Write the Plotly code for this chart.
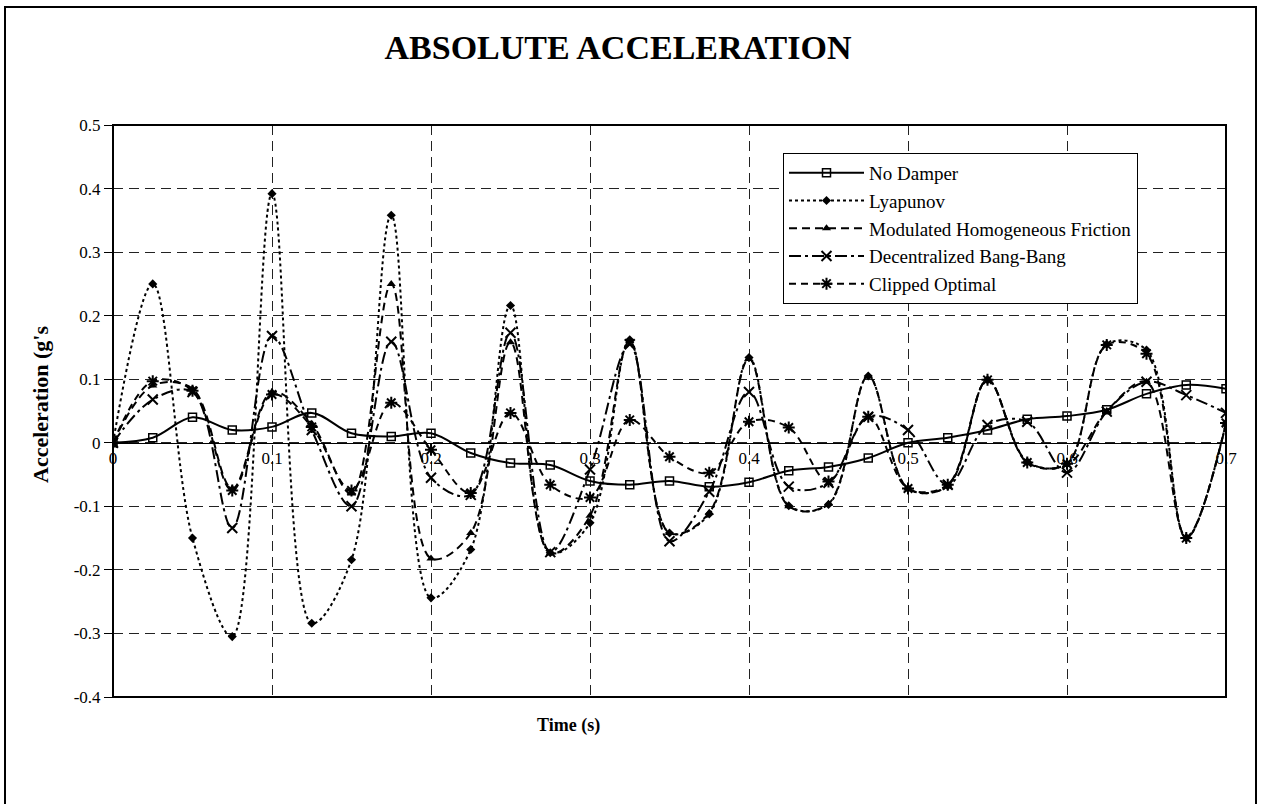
import plotly.graph_objects as go

# ---- data ----
time_s = [0.0, 0.025, 0.05, 0.075, 0.1, 0.125, 0.15, 0.175, 0.2, 0.225,
          0.25, 0.275, 0.3, 0.325, 0.35, 0.375, 0.4, 0.425, 0.45, 0.475,
          0.5, 0.525, 0.55, 0.575, 0.6, 0.625, 0.65, 0.675, 0.7]

no_damper = [0.0, 0.008, 0.04, 0.02, 0.025, 0.047, 0.015, 0.01, 0.015, -0.016,
             -0.032, -0.035, -0.06, -0.066, -0.06, -0.069, -0.062, -0.044, -0.038, -0.024,
             0.0, 0.008, 0.02, 0.037, 0.042, 0.052, 0.077, 0.091, 0.085]

lyapunov = [0.0, 0.25, -0.15, -0.305, 0.392, -0.284, -0.184, 0.358, -0.244, -0.168,
            0.216, -0.173, -0.126, 0.162, -0.142, -0.112, 0.134, -0.099, -0.097, 0.105,
            -0.072, -0.068, 0.099, -0.03, -0.033, 0.155, 0.146, -0.15, 0.031]

mod_homog_friction = [0.0, 0.09, 0.085, -0.072, 0.08, 0.03, -0.08, 0.25, -0.182, -0.142,
                      0.158, -0.174, -0.115, 0.16, -0.142, -0.11, 0.132, -0.1, -0.096, 0.105,
                      -0.072, -0.068, 0.099, -0.03, -0.035, 0.05, 0.096, -0.148, 0.03]

decentral_bang_bang = [0.0, 0.068, 0.08, -0.134, 0.168, 0.02, -0.1, 0.159, -0.055, -0.082,
                       0.173, -0.172, -0.042, 0.155, -0.155, -0.077, 0.08, -0.069, -0.063, 0.041,
                       0.02, -0.066, 0.028, 0.033, -0.047, 0.049, 0.096, 0.075, 0.047]

clipped_optimal = [0.0, 0.097, 0.082, -0.075, 0.076, 0.025, -0.075, 0.063, -0.011, -0.079,
                   0.047, -0.066, -0.086, 0.036, -0.022, -0.047, 0.033, 0.024, -0.061, 0.041,
                   -0.072, -0.066, 0.099, -0.031, -0.033, 0.154, 0.14, -0.15, 0.031]

x_tick_vals = [0, 0.1, 0.2, 0.3, 0.4, 0.5, 0.6, 0.7]
x_tick_text = ["0", "0.1", "0.2", "0.3", "0.4", "0.5", "0.6", "0.7"]
y_tick_vals = [0.5, 0.4, 0.3, 0.2, 0.1, 0, -0.1, -0.2, -0.3, -0.4]
y_tick_text = ["0.5", "0.4", "0.3", "0.2", "0.1", "0", "-0.1", "-0.2", "-0.3", "-0.4"]

FONT = "Times New Roman, Liberation Serif, serif"

fig = go.Figure()

fig.add_trace(go.Scatter(
    x=time_s, y=no_damper, name="No Damper", mode="lines+markers",
    line=dict(color="black", width=2, shape="spline", smoothing=1.0),
    marker=dict(symbol="square-open", size=8, color="black", line=dict(width=1.5, color="black"))))

fig.add_trace(go.Scatter(
    x=time_s, y=lyapunov, name="Lyapunov", mode="lines+markers",
    line=dict(color="black", width=2, dash="dot", shape="spline", smoothing=1.0),
    marker=dict(symbol="diamond", size=7, color="black")))

fig.add_trace(go.Scatter(
    x=time_s, y=mod_homog_friction, name="Modulated Homogeneous Friction", mode="lines+markers",
    line=dict(color="black", width=2, dash="8px,5px", shape="spline", smoothing=1.0),
    marker=dict(symbol="triangle-up", size=8, color="black")))

fig.add_trace(go.Scatter(
    x=time_s, y=decentral_bang_bang, name="Decentralized Bang-Bang", mode="lines+markers",
    line=dict(color="black", width=2, dash="12px,4px,3px,4px", shape="spline", smoothing=1.0),
    marker=dict(symbol="x-thin-open", size=10, color="black", line=dict(width=2, color="black"))))

fig.add_trace(go.Scatter(
    x=time_s, y=clipped_optimal, name="Clipped Optimal", mode="lines+markers",
    line=dict(color="black", width=2, dash="7px,5px", shape="spline", smoothing=1.0),
    marker=dict(symbol="asterisk-open", size=10, color="black", line=dict(width=2, color="black"))))

L, R, T, B = 113, 36, 125, 107
W, H = 1262, 804
pw, ph = W - L - R, H - T - B

def px_x(px):
    return (px - L) / pw

def px_y(py):
    return (H - B - py) / ph

y_min, y_max = -0.4, 0.5
zero_pos = (0 - y_min) / (y_max - y_min)

fig.update_layout(
    width=W, height=H, autosize=False,
    margin=dict(l=L, r=R, t=T, b=B, pad=0),
    paper_bgcolor="white", plot_bgcolor="white",
    font=dict(family=FONT, color="black", size=17),
    title=dict(text="ABSOLUTE ACCELERATION", x=px_x(618), xref="paper", xanchor="center",
               y=1 - 47 / H, yref="container", yanchor="middle",
               font=dict(family=FONT, size=34, weight="bold", color="black")),
    xaxis=dict(range=[0, 0.7], tickvals=x_tick_vals, ticktext=x_tick_text,
               showgrid=True, gridcolor="#222", gridwidth=1, griddash="10px,6px",
               zeroline=False, anchor="free", position=zero_pos,
               showline=True, linecolor="black", linewidth=1, ticks="",
               tickfont=dict(family=FONT, size=17, color="black")),
    yaxis=dict(range=[y_min, y_max], tickvals=y_tick_vals, ticktext=y_tick_text,
               showgrid=True, gridcolor="#222", gridwidth=1, griddash="10px,6px",
               zeroline=False, showline=False, ticks="outside", ticklen=8,
               tickcolor="black", tickwidth=1,
               tickfont=dict(family=FONT, size=17, color="black")),
    legend=dict(x=px_x(783), y=px_y(153), xanchor="left", yanchor="top",
                bgcolor="white", bordercolor="black", borderwidth=1,
                font=dict(family=FONT, size=19, color="black"),
                itemwidth=75, tracegroupgap=0),
    shapes=[
        dict(type="rect", xref="paper", yref="paper", x0=0, x1=1, y0=0, y1=1,
             line=dict(color="black", width=2), layer="above"),
        dict(type="rect", xref="paper", yref="paper",
             x0=px_x(5), x1=px_x(1256), y0=px_y(815), y1=px_y(7),
             line=dict(color="black", width=2), layer="above"),
    ],
    annotations=[
        dict(text="Time (s)", xref="paper", yref="paper", x=px_x(568), y=px_y(725),
             xanchor="center", yanchor="middle", showarrow=False,
             font=dict(family=FONT, size=18, weight="bold", color="black")),
        dict(text="Acceleration (g's", xref="paper", yref="paper", x=px_x(40), y=px_y(405),
             xanchor="center", yanchor="middle", showarrow=False, textangle=-90,
             font=dict(family=FONT, size=22, weight="bold", color="black")),
    ],
)

fig.write_html("out.html")
